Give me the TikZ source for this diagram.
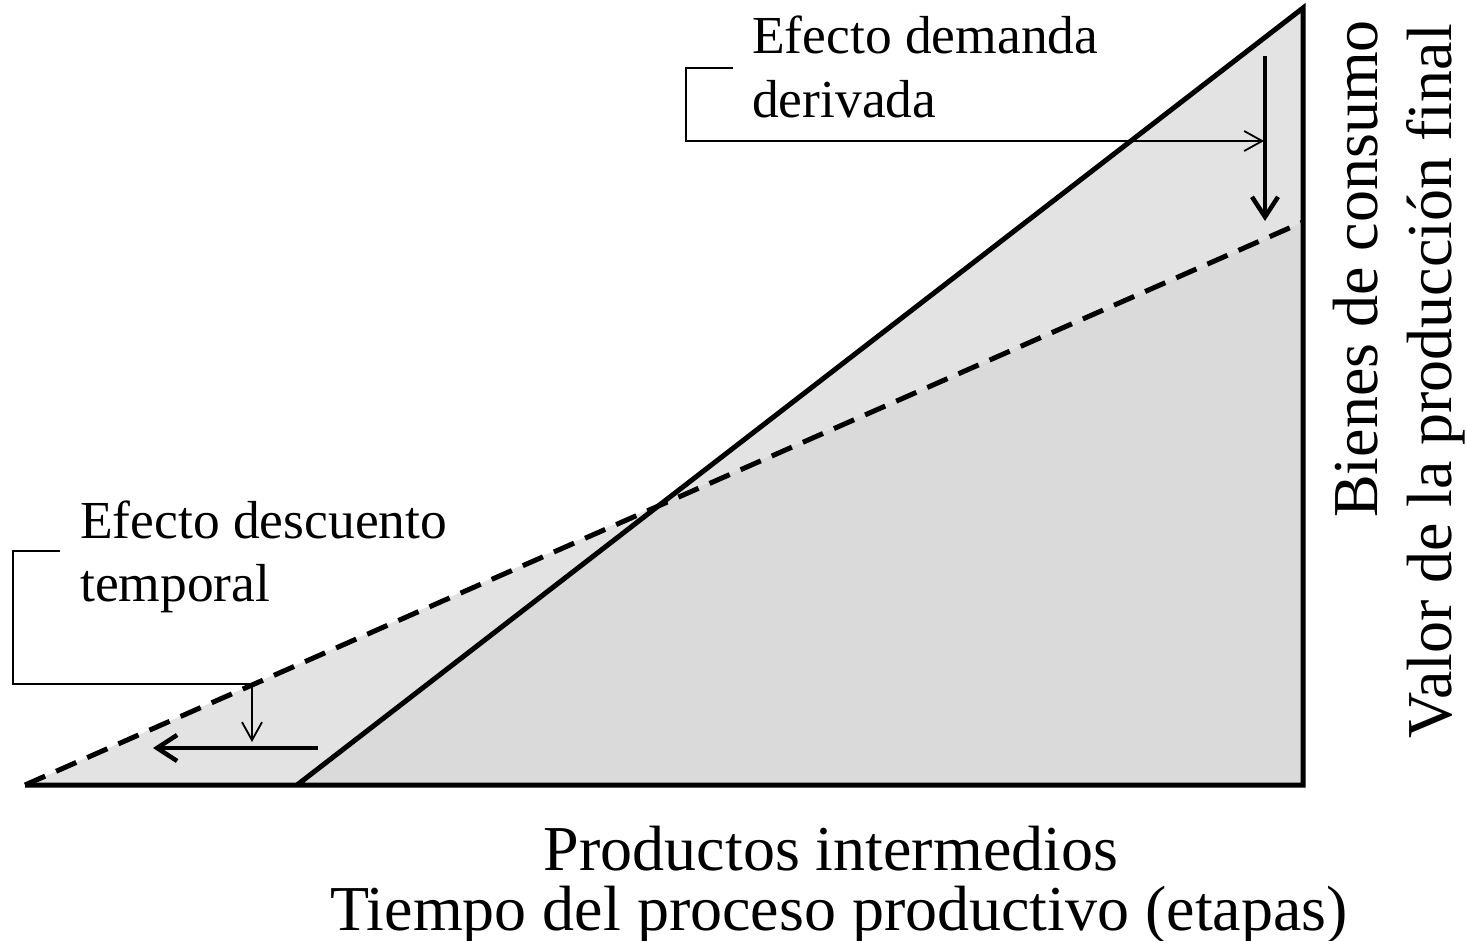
\documentclass[tikz,border=0pt]{standalone}
\usepackage{fontspec}
\setmainfont{Liberation Serif}
\usetikzlibrary{arrows.meta}
\definecolor{lightfill}{HTML}{E3E3E3}
\definecolor{darkfill}{HTML}{DADADA}
\tikzset{
  mainline/.style={line width=5pt, line join=miter},
  dashline/.style={line width=5pt, dash pattern=on 22pt off 12pt},
  thinline/.style={line width=1.8pt},
  bigarrow/.style={line width=4.5pt, -{Straight Barb[length=20pt,width=26pt,line width=4.5pt]}},
  smallarrow/.style={thinline, -{Straight Barb[length=18pt,width=20pt,line width=1.8pt]}},
  calltext/.style={font=\fontsize{53.5}{60}\selectfont, inner sep=0pt, anchor=base west},
  axistext/.style={font=\fontsize{64}{72}\selectfont, inner sep=0pt}
}
\begin{document}
\begin{tikzpicture}[x=1pt,y=-1pt]
\useasboundingbox (0,0) rectangle (1466,941);
% key points
\coordinate (L) at (25,785);
\coordinate (S) at (297,785);
\coordinate (R) at (1303,785);
\coordinate (T) at (1303,8);
\coordinate (D) at (1303,222);
\coordinate (X) at (661.5,503.5);
% fills
\fill[lightfill] (L) -- (X) -- (S) -- cycle;
\fill[lightfill] (X) -- (T) -- (D) -- cycle;
\fill[darkfill] (S) -- (X) -- (D) -- (R) -- cycle;
% lines
\draw[dashline] (L) -- (D);
\draw[mainline] (L) -- (R) -- (T) -- (S);
% top callout
\node[calltext] (t1) at (752,54) {Efecto demanda};
\node[calltext] (t2) at (752,118) {derivada};
\coordinate (c1) at (733,68);
\coordinate (c2) at (686,68);
\coordinate (c3) at (686,141);
\coordinate (c4) at (1264,141);
\draw[smallarrow] (c1) -- (c2) -- (c3) -- (c4);
\coordinate (a1) at (1265,56);
\coordinate (a2) at (1265,221);
\draw[bigarrow] (a1) -- (a2);
% left callout
\node[calltext] (t3) at (80,538) {Efecto descuento};
\node[calltext] (t4) at (80,601) {temporal};
\coordinate (d1) at (60,551);
\coordinate (d2) at (13,551);
\coordinate (d3) at (13,684);
\coordinate (d4) at (252,684);
\coordinate (d5) at (252,742);
\draw[smallarrow] (d1) -- (d2) -- (d3) -- (d4) -- (d5);
\coordinate (b1) at (318,748);
\coordinate (b2) at (153,748);
\draw[bigarrow] (b1) -- (b2);
% axis labels
\node[axistext, anchor=base] (x1) at (831,870) {Productos intermedios};
\node[axistext, anchor=base] (x2) at (839,930) {Tiempo del proceso productivo (etapas)};
\node[axistext, rotate=90, anchor=base east] (y1) at (1377,20) {Bienes de consumo};
\node[axistext, rotate=90, anchor=base east] (y2) at (1451,24) {Valor de la producción final};
\end{tikzpicture}
\end{document}
